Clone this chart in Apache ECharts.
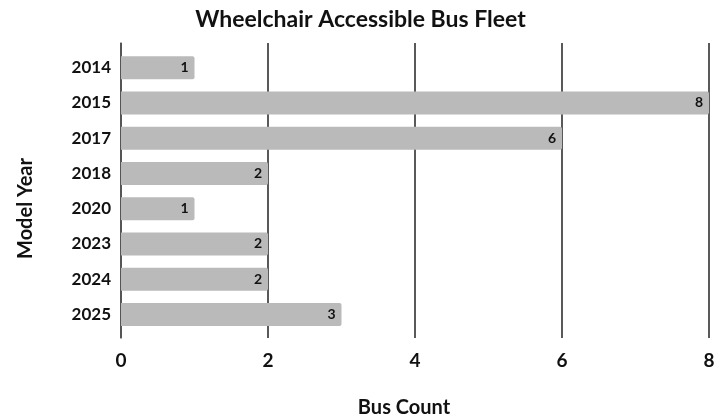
<!DOCTYPE html>
<html>
<head>
<meta charset="utf-8">
<script src="https://cdn.jsdelivr.net/npm/echarts@6/dist/echarts.min.js"></script>
<style>
  html, body { margin: 0; padding: 0; background: #fff; }
  #chart { width: 721px; height: 419px; }
</style>
</head>
<body>
<div id="chart"></div>
<script>
// model years, top to bottom
const years = ["2014", "2015", "2017", "2018", "2020", "2023", "2024", "2025"];
const busCounts = [1, 8, 6, 2, 1, 2, 2, 3];
const xTicks = [0, 2, 4, 6, 8];

const chart = echarts.init(document.getElementById("chart"));
const font = "Lato, 'Open Sans', sans-serif";

chart.setOption({
  animation: false,
  textStyle: { fontFamily: font },
  title: {
    text: "Wheelchair Accessible Bus Fleet",
    left: "center",
    top: 3,
    textStyle: { fontSize: 23, fontWeight: "bold", color: "#111", fontFamily: font },
  },
  grid: [
    // bars
    { left: 121, right: 12, top: 50, bottom: 87, outerBoundsMode: "none" },
    // frame lines (a bit taller than the bar band)
    { left: 121, right: 12, top: 43, bottom: 81, outerBoundsMode: "none" },
  ],
  xAxis: [
    {
      gridIndex: 0,
      type: "value",
      min: xTicks[0],
      max: xTicks[xTicks.length - 1],
      interval: 2,
      show: false,
    },
    {
      gridIndex: 1,
      type: "value",
      min: xTicks[0],
      max: xTicks[xTicks.length - 1],
      interval: 2,
      axisLine: { show: false },
      axisTick: { show: false },
      axisLabel: { fontSize: 19, fontWeight: "bold", color: "#111", margin: 13, fontFamily: font },
      splitLine: { show: true, lineStyle: { color: "#222", width: 1.5 } },
      name: "Bus Count",
      nameLocation: "middle",
      nameGap: 60,
      nameTextStyle: { fontSize: 20, fontWeight: "bold", color: "#111", fontFamily: font, padding: [0, 22, 0, 0] },
    },
  ],
  yAxis: [
    {
      gridIndex: 0,
      type: "category",
      data: years,
      inverse: true,
      axisLine: { show: false },
      axisTick: { show: false },
      axisLabel: { fontSize: 17, fontWeight: "bold", color: "#111", margin: 10, fontFamily: font },
    },
    {
      gridIndex: 1,
      type: "value",
      min: 0,
      max: 1,
      axisLine: { show: true, lineStyle: { color: "#555", width: 1.5 } },
      axisTick: { show: false },
      axisLabel: { show: false },
      splitLine: { show: false },
      name: "Model Year",
      nameLocation: "middle",
      nameGap: 85,
      nameTextStyle: { fontSize: 20, fontWeight: "bold", color: "#111", fontFamily: font, padding: [0, 36, 0, 0] },
    },
  ],
  series: [
    {
      type: "bar",
      xAxisIndex: 0,
      yAxisIndex: 0,
      data: busCounts,
      barWidth: 23,
      itemStyle: { color: "#bababa", borderRadius: [0, 2, 2, 0] },
      label: {
        show: true,
        position: "insideRight",
        distance: 6,
        fontSize: 14,
        fontWeight: "bold",
        color: "#111",
        fontFamily: font,
      },
    },
  ],
});
</script>
</body>
</html>
